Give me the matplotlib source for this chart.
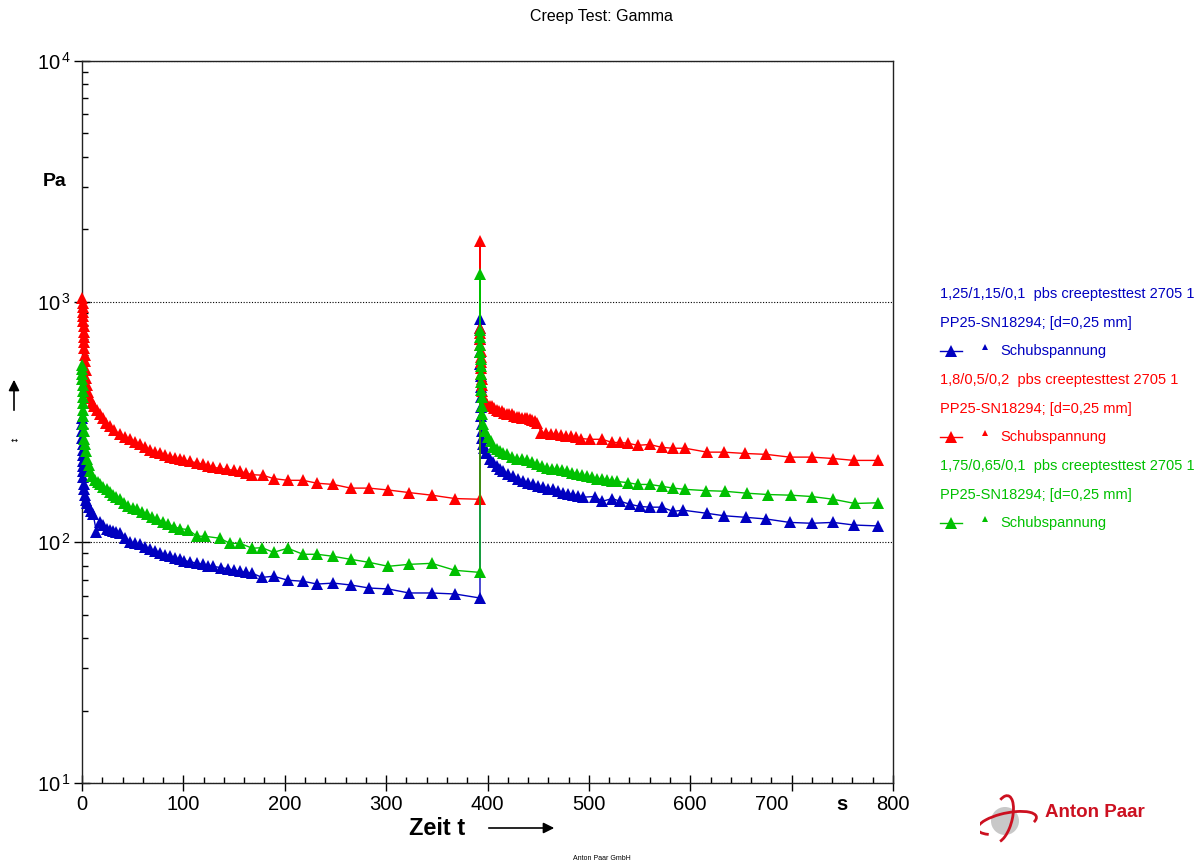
import math
import matplotlib
matplotlib.use('Agg')
import matplotlib.pyplot as plt
from matplotlib.ticker import FixedLocator, FuncFormatter, LogLocator, MultipleLocator
from matplotlib.patches import Circle, Arc
from matplotlib.lines import Line2D

plt.rcParams['font.family'] = ['Liberation Sans', 'DejaVu Sans']
plt.rcParams['mathtext.default'] = 'regular'

# --- data (time in s, shear stress in Pa) ---
blue_t1 = [0.1, 0.2, 0.3, 0.4, 0.5, 0.6, 0.7, 0.8, 0.9, 1.0,
           1.2, 1.5, 2.0, 2.8, 3.8, 5.0, 6.5, 8.5, 11, 14.3,
           17.8, 21, 24.7, 27.5, 30.6, 34, 37.5, 42, 47.3, 52,
           57.2, 62, 67, 72, 77, 82, 86.8, 92, 96.7, 101,
           106.5, 113, 119, 124, 129, 137, 144, 150, 156, 162,
           168, 177.5, 189, 203, 218, 232, 248, 265, 283, 302,
           322.5, 345, 368, 392.6]
blue_v1 = [330, 310, 290, 272, 256, 242, 230, 218, 207, 197,
           186, 175, 166, 157, 150, 146, 140, 135, 131, 110,
           122, 118, 114, 112, 111, 110, 109, 104, 100, 99,
           98, 96, 94, 92, 90, 89, 87.5, 86, 85, 84,
           83, 82, 81, 80, 79.5, 78.5, 77.7, 76.5, 75.8, 75,
           74.4, 71.5, 72.3, 69.6, 68.9, 67.1, 67.7, 66.5, 64.6, 64.0,
           61.6, 61.6, 61.0, 58.7]
blue_t2 = [392.6, 392.7, 392.8, 392.9, 393.0, 393.1, 393.2, 393.4, 393.6, 393.8,
           394.1, 394.5, 395.0, 395.5, 397, 399, 402.5, 405.5, 409, 412,
           415, 420, 425, 430, 435, 440, 445, 450, 455, 460,
           464.6, 469.5, 474.5, 479, 484, 489, 494, 506, 513, 523,
           531, 540.5, 550, 560, 572, 583, 593, 616.5, 633, 655,
           675, 698, 720, 741, 761.5, 785]
blue_v2 = [850, 780, 700, 620, 550, 490, 440, 400, 365, 335,
           310, 290, 272, 255, 246, 235, 223, 215, 207, 202,
           197, 192, 188, 183, 179, 176, 174, 171, 169, 167,
           166, 163, 160, 159, 158, 156, 154, 155, 148, 152,
           148, 144, 141, 140, 140, 134.5, 136, 132, 129, 127,
           125, 121, 120, 121, 118, 117]

red_t1 = [0.3, 0.5, 0.7, 0.9, 1.1, 1.3, 1.5, 1.7, 1.9, 2.1,
          2.4, 2.7, 3.0, 3.5, 4.2, 5.0, 6.2, 7.9, 10, 12.3,
          14.8, 17.5, 20.7, 24, 27.6, 32, 37.5, 42, 47.3, 52,
          57.2, 62, 67, 72, 77, 82, 86.8, 92, 96.7, 101,
          106.5, 113, 119, 124, 129, 136, 143, 150, 156, 162,
          168, 178.5, 189, 203, 218, 232, 248, 265, 283, 302,
          322.5, 345, 368, 392.6]
red_v1 = [1040, 990, 950, 910, 870, 830, 790, 750, 715, 680,
          640, 600, 565, 520, 480, 450, 420, 397, 380, 367,
          356, 341, 327, 314, 303, 292, 281, 274, 268, 261,
          255, 249, 243, 238, 234, 230, 227, 224, 221, 219,
          217, 214, 211, 208, 205, 203, 201, 199, 197, 194,
          191, 190, 184, 181, 181, 176, 174, 168, 168, 165,
          161, 157, 152, 151]
red_t2 = [392.6, 392.7, 392.8, 392.9, 393.0, 393.1, 393.2, 393.4, 393.6, 393.8,
          394.1, 394.5, 395.0, 395.5, 397.5, 399.5, 402, 404, 406.5, 409,
          411.5, 414, 416.5, 419, 421.5, 424, 426.5, 429, 431.5, 434,
          436.5, 439, 441.5, 444, 446.5, 449, 453, 458, 463, 467.5,
          472.5, 477, 482, 487, 492, 501, 513, 523, 531, 538.6,
          548, 560, 572, 583, 595, 616.5, 633, 654, 675, 698,
          720, 741, 761.5, 785]
red_v2 = [1790, 780, 740, 700, 660, 625, 590, 560, 530, 500,
          475, 450, 425, 403, 388, 374, 370, 367, 361, 356,
          353, 350, 346, 343, 341, 340, 336, 333, 331, 330,
          328, 327, 324, 321, 318, 312, 286, 286, 283, 281,
          278, 276, 276, 273, 270, 268, 268, 260, 260, 258,
          253, 255, 248, 246, 246, 237, 237, 234, 232, 226,
          226, 223, 219, 219]

green_t1 = [0.1, 0.2, 0.3, 0.4, 0.5, 0.6, 0.7, 0.8, 0.9, 1.0,
            1.3, 1.7, 2.3, 3.0, 4.0, 5.0, 6.5, 8.0, 10.3, 12.8,
            15.3, 17.8, 21, 24.7, 27.5, 30.6, 34, 37.5, 41.5, 45.4,
            50, 54, 59, 64, 69, 74, 79.5, 85, 91, 96.7,
            104.6, 113.4, 121, 136, 146, 156, 168, 177.5, 189, 203,
            218, 232, 247.6, 265, 283, 302, 322.5, 345, 368, 392.6]
green_v1 = [548, 525, 500, 475, 450, 425, 400, 378, 355, 335,
            310, 290, 270, 255, 240, 223, 210, 197, 189, 182,
            178, 174, 170, 166, 162, 158, 154, 151, 146, 141,
            139, 137, 134, 131, 128, 125, 122, 119, 116, 114,
            113, 106, 106, 104, 99, 99, 94.5, 95, 90.9, 94.5,
            89.2, 89.2, 87.5, 85, 82.6, 79.5, 81, 81.8, 76.5, 75]
green_t2 = [392.6, 392.7, 392.8, 392.9, 393.0, 393.1, 393.2, 393.4, 393.6, 393.8,
            394.1, 394.5, 395.0, 395.5, 398, 400.5, 403, 405.4, 409, 412.3,
            415.5, 419, 424, 429, 434, 439, 444, 449, 454, 458.7,
            463.5, 468.5, 473, 478, 483, 488, 493, 498, 503, 508,
            513, 518, 523, 527.7, 538.6, 548, 560, 572, 583, 595,
            615.5, 634, 656, 676.7, 699, 720, 741, 762.5, 785]
green_v2 = [1300, 760, 710, 660, 620, 580, 540, 500, 465, 430,
            400, 370, 340, 310, 289, 275, 263, 250, 244, 239,
            235, 232, 227, 223, 221, 219, 215, 211, 207, 203,
            202, 201, 199, 197, 195, 193, 190, 188, 186, 184,
            183, 182, 180, 179, 177, 174, 174, 171, 168, 166,
            164, 163, 160, 158, 157, 155, 151, 145, 146]

series = [
    ('#0000C0', blue_t1 + blue_t2, blue_v1 + blue_v2,
     '1,25/1,15/0,1  pbs creeptesttest 2705 1'),
    ('#FF0000', red_t1 + red_t2, red_v1 + red_v2,
     '1,8/0,5/0,2  pbs creeptesttest 2705 1'),
    ('#00C000', green_t1 + green_t2, green_v1 + green_v2,
     '1,75/0,65/0,1  pbs creeptesttest 2705 1'),
]

W, H = 1198, 863
fig = plt.figure(figsize=(W / 100, H / 100), dpi=100)
ax = fig.add_axes([82 / W, (H - 783) / H, (893 - 82) / W, (783 - 61) / H])

for i, (col, t, v, _) in enumerate(series):
    ax.plot(t, v, color=col, lw=1, marker='^', markersize=8, markeredgewidth=0,
            clip_on=False, zorder=3 + i)

ax.set_yscale('log')
ax.set_xlim(0, 800)
ax.set_ylim(10, 10000)

ax.xaxis.set_major_locator(MultipleLocator(100))
ax.xaxis.set_minor_locator(MultipleLocator(20))
ax.yaxis.set_major_locator(FixedLocator([10, 100, 1000, 10000]))
ax.yaxis.set_minor_locator(LogLocator(base=10, subs=range(2, 10)))
ax.yaxis.set_major_formatter(FuncFormatter(lambda y, p: r'$10^{\,%d}$' % round(math.log10(y))))
ax.xaxis.set_major_formatter(FuncFormatter(lambda x, p: '' if round(x) == 700 else '%d' % x))

ax.tick_params(axis='x', which='major', direction='inout', length=11, width=1, labelsize=14.5, pad=3)
ax.tick_params(axis='x', which='minor', direction='in', length=4, width=1)
ax.tick_params(axis='y', which='major', direction='inout', length=12, width=1, labelsize=14.5, pad=2)
ax.tick_params(axis='y', which='minor', direction='in', length=4, width=1, labelleft=False)
for s in ax.spines.values():
    s.set_linewidth(1)
    s.set_color('#222222')

ax.yaxis.grid(True, which='major', linestyle=(0, (1, 1.5)), color='black', lw=0.8)

# "700" sits a little left to leave room for the unit "s"
for xv, dx, txt, wt in [(700, -20, '700', 'normal'), (750, 0, 's', 'bold')]:
    ax.annotate(txt, xy=(xv, 0), xycoords=('data', 'axes fraction'),
                xytext=(dx * 0.72, -8.5), textcoords='offset points',
                ha='center', va='top', fontsize=14.5, fontweight=wt)

fig.text(55 / W, 1 - 182 / H, 'Pa', ha='center', va='center', fontsize=14, fontweight='bold')
fig.text(437 / W, 1 - 828 / H, 'Zeit t', ha='center', va='center', fontsize=17, fontweight='bold')
fig.text(601 / W, 1 - 17 / H, 'Creep Test: Gamma', ha='center', va='center', fontsize=11.5)
fig.text(602 / W, 1 - 858 / H, 'Anton Paar GmbH', ha='center', va='center', fontsize=5)
fig.text(14 / W, 1 - 440 / H, '\u2194', ha='center', va='center', fontsize=6,
         family=['DejaVu Sans'])
ax.annotate('', xy=(14, H - 377), xytext=(14, H - 413), xycoords='figure pixels',
            textcoords='figure pixels',
            arrowprops=dict(arrowstyle='-|>', color='black', lw=1.2, mutation_scale=16))
ax.annotate('', xy=(557, H - 828), xytext=(486, H - 828), xycoords='figure pixels',
            textcoords='figure pixels',
            arrowprops=dict(arrowstyle='-|>', color='black', lw=1.2, mutation_scale=16))

# legend drawn by hand
for i, (col, _, _, name) in enumerate(series):
    y0 = 294 + i * 86
    fig.text(940 / W, 1 - y0 / H, name, color=col, fontsize=10.5, va='center')
    fig.text(940 / W, 1 - (y0 + 29) / H, 'PP25-SN18294; [d=0,25 mm]', color=col,
             fontsize=10.5, va='center')
    ym = 1 - (y0 + 57) / H
    fig.add_artist(Line2D([940 / W, 962 / W], [ym, ym], color=col, lw=1,
                          transform=fig.transFigure))
    fig.add_artist(Line2D([951 / W], [ym], color=col, marker='^', markersize=8,
                          markeredgewidth=0, transform=fig.transFigure))
    fig.add_artist(Line2D([985 / W], [ym + 4 / H], color=col, marker='^', markersize=4,
                          markeredgewidth=0, transform=fig.transFigure))
    fig.text(1000 / W, ym, 'Schubspannung', color=col, fontsize=10.5, va='center')

# logo
lax = fig.add_axes([980 / W, (H - 845) / H, 180 / W, 55 / H])
lax.set_xlim(0, 180)
lax.set_ylim(0, 55)
lax.axis('off')
lax.add_patch(Circle((25, 24), 14, color='#c8c8c8', lw=0))
lax.add_patch(Arc((27, 22), 60, 20, angle=12, theta1=-10, theta2=200, color='#cc1020', lw=2))
lax.add_patch(Arc((22, 26), 20, 48, angle=-15, theta1=-80, theta2=110, color='#cc1020', lw=2))
lax.text(65, 33, 'Anton Paar', color='#cc1020', fontsize=13.5, fontweight='bold', va='center')

fig.savefig('out.png', dpi=100)
